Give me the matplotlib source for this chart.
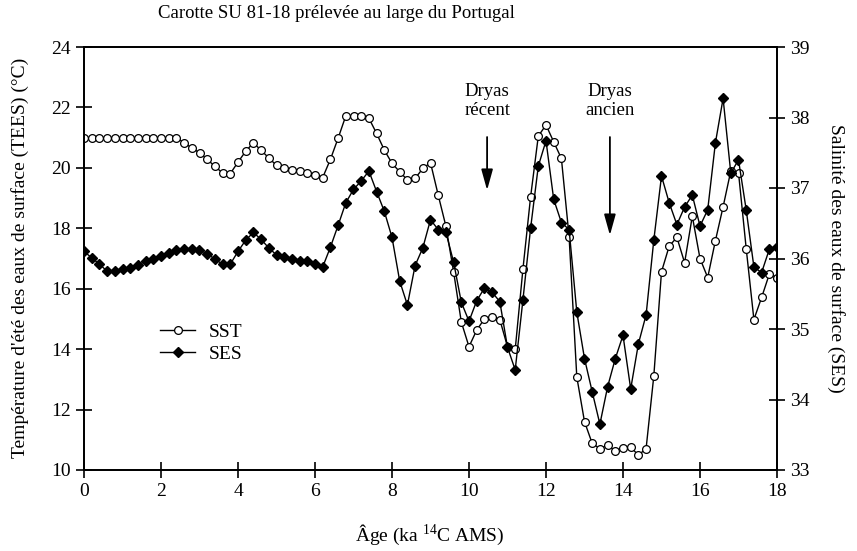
import matplotlib
matplotlib.use("Agg")
import matplotlib.pyplot as plt
from matplotlib.lines import Line2D

plt.rcParams['font.family'] = ['Liberation Serif', 'DejaVu Serif']
plt.rcParams['mathtext.fontset'] = 'custom'
plt.rcParams['mathtext.rm'] = 'Liberation Serif'
plt.rcParams['mathtext.it'] = 'Liberation Serif:italic'
plt.rcParams['mathtext.bf'] = 'Liberation Serif:bold'

# Age (ka 14C AMS), sampled every 0.2 ka
age = [round(0.2 * i, 1) for i in range(91)]

# Summer sea-surface temperature (°C), left axis
sst = [21.0, 21.0, 21.0, 21.0, 21.0, 21.0, 21.0, 21.0, 21.0, 21.0, 21.0, 21.0, 21.0,
       20.83, 20.66, 20.5, 20.28, 20.05, 19.83, 19.81, 20.19, 20.55, 20.83, 20.58,
       20.33, 20.08, 20.0, 19.94, 19.89, 19.83, 19.78, 19.68, 20.28, 20.98, 21.72,
       21.72, 21.72, 21.64, 21.14, 20.59, 20.15, 19.87, 19.6, 19.65, 19.98, 20.17,
       19.1, 18.07, 16.56, 14.9, 14.08, 14.63, 15.0, 15.05, 14.98, 14.08, 13.99,
       16.64, 19.04, 21.05, 21.42, 20.86, 20.31, 17.72, 13.08, 11.6, 10.88, 10.71,
       10.82, 10.63, 10.74, 10.76, 10.49, 10.71, 13.11, 16.56, 17.41, 17.7, 16.86,
       18.4, 17.0, 16.37, 17.59, 18.71, 19.9, 19.84, 17.33, 14.98, 15.71, 16.48, 16.37]

# Sea-surface salinity, right axis
ses = [36.10, 36.01, 35.92, 35.82, 35.82, 35.85, 35.87, 35.91, 35.96, 36.0, 36.04,
       36.08, 36.12, 36.13, 36.13, 36.12, 36.07, 35.99, 35.92, 35.92, 36.10, 36.26,
       36.37, 36.27, 36.15, 36.05, 36.02, 36.0, 35.97, 35.96, 35.92, 35.88, 36.16,
       36.47, 36.79, 36.98, 37.1, 37.24, 36.95, 36.67, 36.3, 35.68, 35.34, 35.9,
       36.15, 36.55, 36.41, 36.37, 35.95, 35.38, 35.11, 35.4, 35.58, 35.52, 35.39,
       34.74, 34.42, 35.41, 36.43, 37.31, 37.67, 36.84, 36.51, 36.41, 35.24, 34.58,
       34.11, 33.65, 34.18, 34.58, 34.91, 34.15, 34.79, 35.2, 36.26, 37.17, 36.79,
       36.48, 36.73, 36.9, 36.46, 36.69, 37.64, 38.27, 37.21, 37.4, 36.69, 35.88,
       35.8, 36.13, 36.16]

xticks = [0, 2, 4, 6, 8, 10, 12, 14, 16, 18]
yticks_left = [10, 12, 14, 16, 18, 20, 22, 24]
yticks_right = [33, 34, 35, 36, 37, 38, 39]

W, H = 857, 551
fig = plt.figure(figsize=(W / 100, H / 100), dpi=100)
L, R, T, B = 84, 777, 47, 470
ax = fig.add_axes([L / W, 1 - B / H, (R - L) / W, (B - T) / H])
ax2 = ax.twinx()

ax.set_xlim(0, 18)
ax.set_ylim(10, 24)
ax2.set_ylim(33, 39)

l1, = ax.plot(age, sst, '-o', color='black', lw=1.0, ms=5.6, mfc='white',
              mec='black', mew=0.9, label='SST')
l2, = ax2.plot(age, ses, '-D', color='black', lw=1.0, ms=5.0, mfc='black',
               mec='black', label='SES')

ax.set_xticks(xticks)
ax.set_yticks(yticks_left)
ax2.set_yticks(yticks_right)
for a in (ax, ax2):
    for s in a.spines.values():
        s.set_linewidth(1.3)
ax.tick_params(direction='inout', length=11, width=1.2, labelsize=14, pad=4,
               top=False, right=False)
ax2.tick_params(direction='inout', length=11, width=1.2, labelsize=14, pad=4)

fig.text(336 / W, 1 - 14 / H, "Carotte SU 81-18 prélevée au large du Portugal",
         ha='center', va='center', fontsize=13.5)
fig.text(430 / W, 1 - 535 / H, "Âge (ka $^{14}$C AMS)", ha='center', va='center',
         fontsize=14)
fig.text(20 / W, 1 - 258 / H, "Température d'été des eaux de surface (TEES) (°C)",
         rotation=90, ha='center', va='center', fontsize=14)
fig.text(836 / W, 1 - 258 / H, "Salinité des eaux de surface (SES)",
         rotation=270, ha='center', va='center', fontsize=14)

ax.text(10.47, 22.22, "Dryas\nrécent", ha='center', va='center', fontsize=13.5,
        linespacing=1.15)
ax.text(13.66, 22.22, "Dryas\nancien", ha='center', va='center', fontsize=13.5,
        linespacing=1.15)
arrow = dict(arrowstyle='-|>,head_length=0.9,head_width=0.25', color='black',
             lw=1.3, shrinkA=0, shrinkB=0, mutation_scale=14)
ax.annotate('', xy=(10.47, 19.26), xytext=(10.47, 21.02), arrowprops=arrow)
ax.annotate('', xy=(13.66, 17.77), xytext=(13.66, 21.02), arrowprops=arrow)

ax.legend([l1, l2], ['SST', 'SES'], loc='center left',
          bbox_to_anchor=(160 / W, 1 - 343 / H), bbox_transform=fig.transFigure,
          frameon=False, fontsize=14, handlelength=1.8, handletextpad=0.7,
          labelspacing=0.2, borderpad=0, borderaxespad=0)

fig.savefig("out.png", dpi=100)
